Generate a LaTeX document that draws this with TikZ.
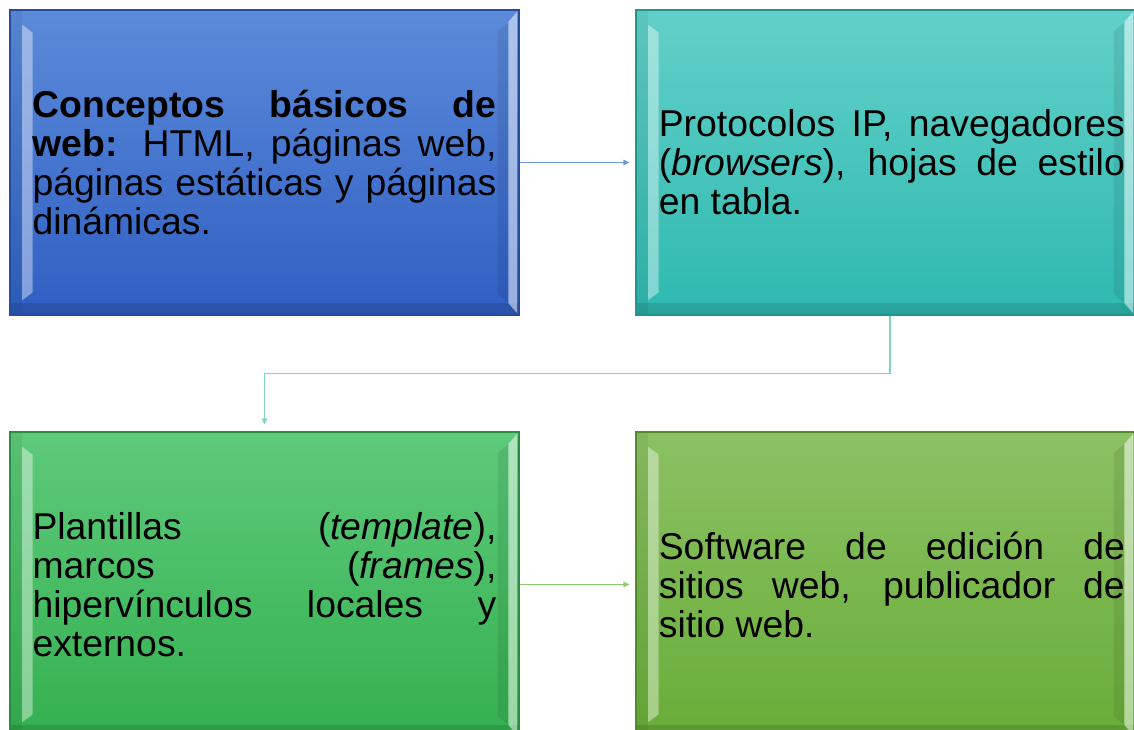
\documentclass[tikz,border=0pt]{standalone}
\usepackage{fontspec}
\setmainfont{Liberation Sans}
\definecolor{webblue}{HTML}{5C8BDA}
\definecolor{webbluedk}{HTML}{2F5FC3}
\definecolor{webteal}{HTML}{62D0C8}
\definecolor{webtealdk}{HTML}{2EB9B0}
\definecolor{webgreen}{HTML}{5ECA7B}
\definecolor{webgreendk}{HTML}{34B04F}
\definecolor{weblime}{HTML}{8BC163}
\definecolor{weblimedk}{HTML}{69AD39}
\definecolor{arrblue}{HTML}{6F95DD}
\definecolor{arrteal}{HTML}{7FD6B0}
\definecolor{arrgreen}{HTML}{8DCB70}
\usetikzlibrary{arrows.meta,positioning,calc}

\tikzset{
  bevelbox/.style={line width=0.8pt, minimum height=228.75pt, inner sep=0pt,
    text width=348pt, align=justify, font=\fontsize{28pt}{29.25pt}\selectfont,
    path picture={
      % bottom face
      \fill[black, opacity=0.12] (path picture bounding box.south west) rectangle ([yshift=9pt]path picture bounding box.south east);
      % left face
      \fill[black, opacity=0.05] (path picture bounding box.south west) rectangle ([xshift=9pt]path picture bounding box.north west);
      \fill[white, opacity=0.4] ([shift={(9pt,-11pt)}]path picture bounding box.north west) -- ([shift={(17pt,-17pt)}]path picture bounding box.north west) -- ([shift={(17pt,17pt)}]path picture bounding box.south west) -- ([shift={(9pt,11pt)}]path picture bounding box.south west) -- cycle;
      % right face
      \fill[black, opacity=0.08] ([shift={(-8pt,-9pt)}]path picture bounding box.north east) -- ([shift={(-16pt,-16pt)}]path picture bounding box.north east) -- ([shift={(-16pt,16pt)}]path picture bounding box.south east) -- ([shift={(-8pt,9pt)}]path picture bounding box.south east) -- cycle;
      \fill[white, opacity=0.5] ([shift={(-1.5pt,-1.5pt)}]path picture bounding box.north east) -- ([shift={(-8pt,-9pt)}]path picture bounding box.north east) -- ([shift={(-8pt,9pt)}]path picture bounding box.south east) -- ([shift={(-1.5pt,1.5pt)}]path picture bounding box.south east) -- cycle;
    }},
  shifted/.style={execute at begin node={\leftskip=4pt\rightskip=-5.5pt}},
  link/.style={-{Triangle[length=4.5pt,width=4pt]}, line width=1pt}
}

\begin{document}
\begin{tikzpicture}[x=0.75pt, y=0.75pt]
  \useasboundingbox (0,0) rectangle (1134,729);

  % top row
  \node[bevelbox, draw=webbluedk!80!black, top color=webblue, bottom color=webbluedk, minimum width=381.75pt] (conceptos) at (264.5,566.5) {\textbf{Conceptos básicos de\linebreak web:} HTML, páginas web,\linebreak páginas estáticas y páginas\linebreak dinámicas.};
  \node[bevelbox, shifted, draw=webtealdk!80!black, top color=webteal, bottom color=webtealdk, minimum width=374.25pt] (protocolos) at (885.5,566.5) {Protocolos IP, navegadores\linebreak (\textit{browsers}), hojas de estilo\linebreak en tabla.};

  % bottom row
  \node[bevelbox, draw=webgreendk!80!black, top color=webgreen, bottom color=webgreendk, minimum width=381.75pt] (plantillas) at (264.5,144.5) {Plantillas (\textit{template}),\linebreak marcos (\textit{frames}),\linebreak hipervínculos locales y\linebreak externos.};
  \node[bevelbox, shifted, draw=weblimedk!80!black, top color=weblime, bottom color=weblimedk, minimum width=374.25pt] (software) at (885.5,144.5) {Software de edición de\linebreak sitios web, publicador de\linebreak sitio web.};

  % connectors
  \draw[link, arrblue, shorten >=4.5pt] (conceptos.east) -- (protocolos.west);
  \draw[link, arrteal, shorten >=5.25pt] ([xshift=3.4pt]protocolos.south) -- ++(0,-58) -| (plantillas.north);
  \draw[link, arrgreen, shorten >=4.5pt] (plantillas.east) -- (software.west);
\end{tikzpicture}
\end{document}
